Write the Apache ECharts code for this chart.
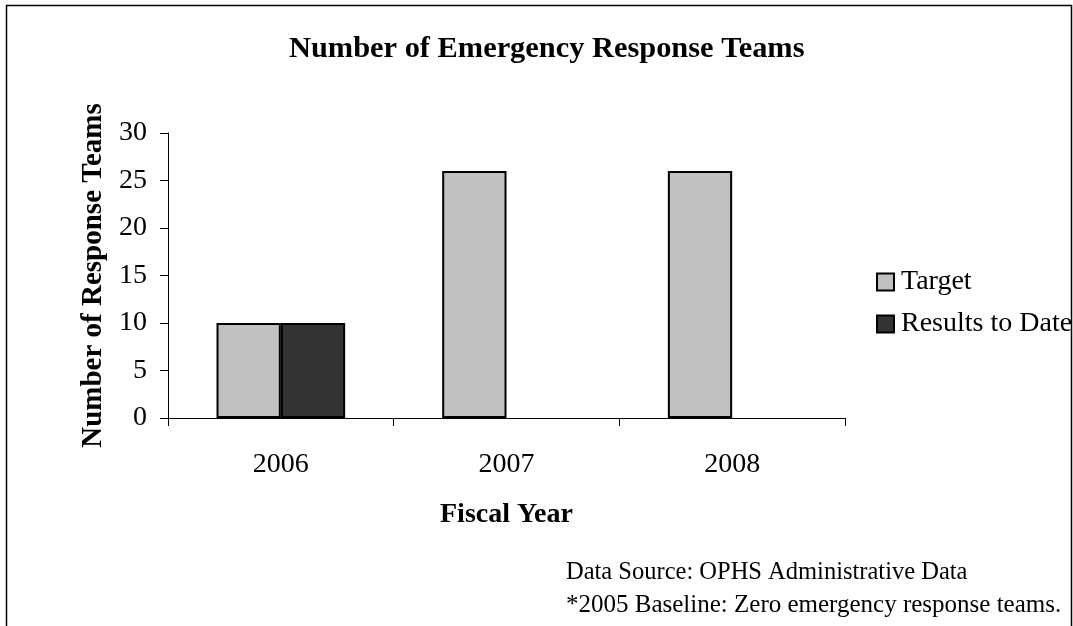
<!DOCTYPE html>
<html>
<head>
<meta charset="utf-8">
<script src="https://cdn.jsdelivr.net/npm/echarts@6/dist/echarts.min.js"></script>
<style>
  html, body { margin: 0; padding: 0; background: #fff; }
  #chart { width: 1073px; height: 626px; }
</style>
</head>
<body>
<div id="chart"></div>
<script>
// Fiscal years and team counts
const years = ['2006', '2007', '2008'];
const targetValues = [10, 26, 26];
const resultsValues = [10, null, null];
const yTicks = [0, 5, 10, 15, 20, 25, 30];

const serif = '"Liberation Serif", "Times New Roman", serif';
const chart = echarts.init(document.getElementById('chart'));

chart.setOption({
  backgroundColor: '#ffffff',
  animation: false,
  textStyle: { fontFamily: serif, color: '#000' },
  title: {
    text: 'Number of Emergency Response Teams',
    left: 284,
    top: 29,
    textStyle: { fontFamily: serif, fontSize: 30.4, fontWeight: 'bold', color: '#000' }
  },
  legend: {
    orient: 'vertical',
    left: 871,
    top: 263,
    itemWidth: 17,
    itemHeight: 17,
    itemGap: 14,
    icon: 'rect',
    itemStyle: { borderColor: '#000', borderWidth: 2 },
    textStyle: { fontFamily: serif, fontSize: 28, color: '#000', padding: [0, 0, 0, 2] },
    data: ['Target', 'Results to Date']
  },
  grid: { left: 168, right: 228, top: 133, bottom: 208, containLabel: false },
  xAxis: {
    type: 'category',
    data: years,
    name: 'Fiscal Year',
    nameLocation: 'middle',
    nameGap: 83,
    nameTextStyle: { fontFamily: serif, fontSize: 28, fontWeight: 'bold', color: '#000' },
    axisLine: { lineStyle: { color: '#000', width: 1 } },
    axisTick: { show: true, length: 8, lineStyle: { color: '#000' } },
    axisLabel: { fontFamily: serif, fontSize: 28, color: '#000', margin: 33 }
  },
  yAxis: {
    type: 'value',
    min: yTicks[0],
    max: yTicks[yTicks.length - 1],
    interval: yTicks[1] - yTicks[0],
    name: 'Number of Response Teams',
    nameLocation: 'middle',
    nameRotate: 90,
    nameGap: 57,
    nameTextStyle: { fontFamily: serif, fontSize: 29, fontWeight: 'bold', color: '#000' },
    axisLine: { show: true, lineStyle: { color: '#000', width: 1 } },
    axisTick: { show: true, length: 8, lineStyle: { color: '#000' } },
    axisLabel: { fontFamily: serif, fontSize: 28, color: '#000', margin: 21 },
    splitLine: { show: false }
  },
  series: [
    {
      name: 'Target',
      type: 'bar',
      data: targetValues,
      barGap: '0%',
      barCategoryGap: '43%',
      itemStyle: { color: '#c0c0c0', borderColor: '#000', borderWidth: 2 }
    },
    {
      name: 'Results to Date',
      type: 'bar',
      data: resultsValues,
      itemStyle: { color: '#333333', borderColor: '#000', borderWidth: 2 }
    }
  ],
  graphic: [
    {
      type: 'polyline',
      shape: { points: [[6.5, 626], [6.5, 5.5], [1071.5, 5.5], [1071.5, 626]] },
      style: { stroke: '#000', lineWidth: 1.5, fill: null }
    },
    {
      type: 'text',
      left: 566,
      top: 560,
      style: { text: 'Data Source: OPHS Administrative Data', font: '24.5px ' + serif, fill: '#000' }
    },
    {
      type: 'text',
      left: 566,
      top: 593,
      style: { text: '*2005 Baseline: Zero emergency response teams.', font: '25px ' + serif, fill: '#000' }
    }
  ]
});
</script>
</body>
</html>
